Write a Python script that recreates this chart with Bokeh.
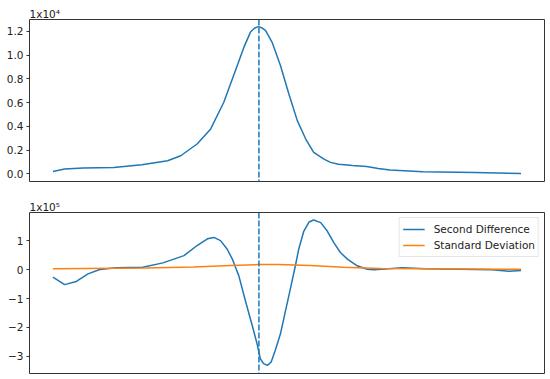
from bokeh.plotting import figure
from bokeh.models import Range1d, FixedTicker, Span, Title, Legend, LegendItem
from bokeh.layouts import column
from bokeh.embed import file_html
from bokeh.resources import INLINE

# ---- data (top panel values in units of 1e4, bottom panel in units of 1e5) ----
signal_x = [0, 2.5, 6.5, 13, 19, 24.5, 27.3, 30.8, 33.7, 36.5, 38.6, 40.8, 42.2,
            43.1, 43.9, 44.7, 45.4, 46.8, 48.6, 50.4, 52.2, 54, 55.7, 57.9, 59.3,
            61, 64, 67, 69.5, 72, 79, 90, 100]
signal_y = [0.02, 0.04, 0.048, 0.053, 0.076, 0.11, 0.152, 0.251, 0.378, 0.603,
            0.828, 1.067, 1.194, 1.228, 1.24, 1.228, 1.208, 1.11, 0.913, 0.673,
            0.448, 0.293, 0.18, 0.124, 0.096, 0.08, 0.07, 0.062, 0.045, 0.031,
            0.017, 0.011, 0.003]

diff_x = [0, 2.5, 5, 7.5, 10, 13.5, 19.2, 23.5, 28, 30.8, 33, 34.4, 35.8, 37.2,
          38.3, 39, 39.7, 41.1, 42.6, 43.6, 44.3, 45, 45.8, 46.6, 47.5, 48.6,
          49.7, 50.8, 51.8, 52.5, 53.6, 54.7, 55.7, 57.2, 58.6, 60, 61.4, 62.9,
          65, 67.1, 68.5, 71, 74.6, 79.6, 86.7, 93.8, 97.4, 100]
diff_y = [-0.26, -0.52, -0.41, -0.15, 0.0, 0.06, 0.08, 0.23, 0.48, 0.83, 1.06,
          1.11, 1.0, 0.71, 0.37, 0.08, -0.21, -1.07, -1.95, -2.56, -3.08, -3.25,
          -3.31, -3.2, -2.79, -2.22, -1.41, -0.61, 0.14, 0.7, 1.33, 1.64, 1.71,
          1.62, 1.33, 0.93, 0.59, 0.36, 0.13, 0.01, -0.01, 0.02, 0.06, 0.03,
          0.01, -0.01, -0.06, -0.03]

std_x = [0, 20, 30, 38, 44, 48, 55, 62, 70, 80, 100]
std_y = [0.03, 0.05, 0.09, 0.14, 0.17, 0.17, 0.14, 0.08, 0.04, 0.03, 0.01]

peak_x = 44
top_ticks = [0.0, 0.2, 0.4, 0.6, 0.8, 1.0, 1.2]
bottom_ticks = [-3, -2, -1, 0, 1]
top_scale_label = "1x10\u2074"
bottom_scale_label = "1x10\u2075"
series_names = ["Second Difference", "Standard Deviation"]

BLUE = "#1f77b4"
ORANGE = "#ff7f0e"
FONT = "DejaVu Sans"
FS = "10.5px"


def style(p, ticks, fmt):
    p.outline_line_color = "#333333"
    p.outline_line_width = 1
    p.xgrid.visible = False
    p.ygrid.visible = False
    ax = p.yaxis[0]
    ax.ticker = FixedTicker(ticks=ticks)
    ax.major_label_overrides = {t: fmt(t) for t in ticks}
    ax.axis_line_color = None
    ax.major_tick_out = 3
    ax.major_tick_in = 0
    ax.minor_tick_out = 0
    ax.minor_tick_in = 0
    ax.major_tick_line_color = "#333333"
    ax.major_label_standoff = 3
    ax.major_label_text_font = FONT
    ax.major_label_text_font_size = FS
    ax.major_label_text_color = "#222222"


p1 = figure(width=545, height=190, output_backend="svg", toolbar_location=None,
            x_axis_location=None, x_range=Range1d(-5, 105),
            y_range=Range1d(-0.065, 1.30), min_border_left=29, min_border_right=1,
            min_border_top=19, min_border_bottom=9)
p1.add_layout(Title(text=top_scale_label, align="left", text_font=FONT,
                    text_font_size=FS, text_font_style="normal",
                    text_color="#222222", standoff=0), "above")
style(p1, top_ticks, lambda t: f"{t:.1f}")
p1.line(signal_x, signal_y, line_color=BLUE, line_width=1.5)
p1.add_layout(Span(location=peak_x, dimension="height", line_color=BLUE,
                   line_width=1.5, line_dash="6 2"))

p2 = figure(width=545, height=185, output_backend="svg", toolbar_location=None,
            x_axis_location=None, x_range=Range1d(-5, 105),
            y_range=Range1d(-3.59, 1.97), min_border_left=29, min_border_right=1,
            min_border_top=22, min_border_bottom=2)
p2.add_layout(Title(text=bottom_scale_label, align="left", text_font=FONT,
                    text_font_size=FS, text_font_style="normal",
                    text_color="#222222", standoff=0), "above")
style(p2, bottom_ticks, lambda t: ("\u2212" if t < 0 else "") + str(abs(int(t))))
r_diff = p2.line(diff_x, diff_y, line_color=BLUE, line_width=1.5)
r_std = p2.line(std_x, std_y, line_color=ORANGE, line_width=1.5)
p2.add_layout(Span(location=peak_x, dimension="height", line_color=BLUE,
                   line_width=1.5, line_dash="6 2"))

legend = Legend(items=[LegendItem(label=series_names[0], renderers=[r_diff]),
                       LegendItem(label=series_names[1], renderers=[r_std])],
                location="top_right", margin=5, padding=3, spacing=0,
                label_text_font=FONT, label_text_font_size=FS,
                label_text_color="#222222", label_height=16, glyph_height=16,
                glyph_width=22, label_standoff=9, border_line_color="#cccccc",
                background_fill_alpha=0.85)
p2.add_layout(legend)

layout = column(p1, p2, spacing=0)
open("out.html", "w").write(file_html(layout, INLINE))
